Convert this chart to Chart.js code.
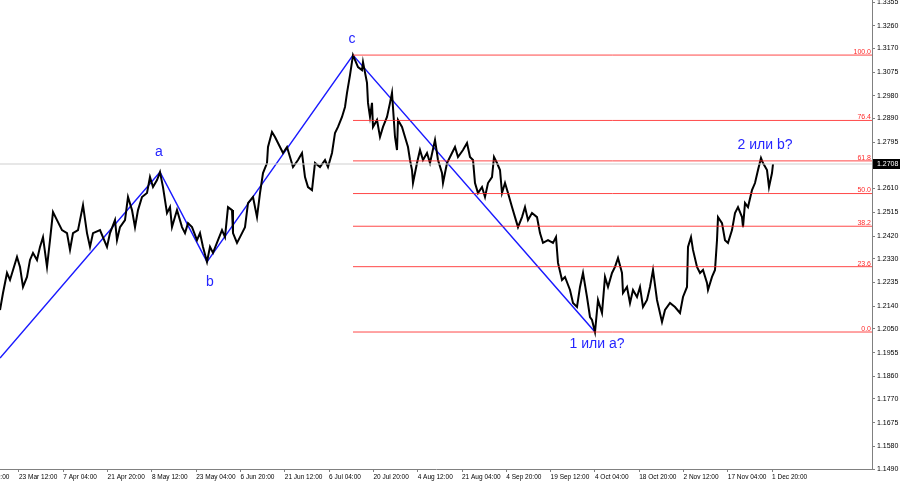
<!DOCTYPE html>
<html><head><meta charset="utf-8">
<script src="https://cdn.jsdelivr.net/npm/chart.js@4.4.1/dist/chart.umd.min.js"></script>
<style>html,body{margin:0;padding:0;background:#fff;}canvas{display:block;}</style>
</head><body>
<canvas id="c" width="900" height="485"></canvas>
<script>
// ---------- DATA ----------
const barIndex = [
  0,3,7,10,17,20,23,27,30,33,
  37,40,43,47,50,53,57,62,67,70,
  73,78,82,83,87,90,93,100,107,110,
  115,117,120,125,128,132,135,138,142,147,
  150,153,157,160,163,167,170,172,177,182,
  185,188,192,197,200,203,207,210,213,218,
  222,225,228,232,233,237,240,245,248,253,
  257,260,263,267,268,272,275,278,283,287,
  290,293,298,302,305,308,312,315,320,325,
  328,332,335,338,342,345,347,350,353,358,
  362,363,367,368,370,372,373,377,380,383,
  387,390,392,395,397,398,402,405,408,410,
  412,413,417,420,423,427,430,435,438,442,
  443,447,452,455,458,463,467,470,473,475,
  478,482,485,488,492,494,497,500,502,505,
  508,512,515,518,522,525,528,532,537,540,
  543,548,553,556,558,562,565,570,573,577,
  580,583,587,590,592,595,598,602,605,608,
  612,615,618,622,623,627,630,633,637,640,
  643,647,650,653,657,662,665,670,675,680,
  683,687,688,691,693,697,700,703,707,708,
  712,715,717,718,722,725,728,732,735,738,
  742,743,745,748,752,755,758,761,763,767,
  769,772,773
];
const closePrice = [
  1.2125,1.2193,1.2273,1.2245,1.2337,1.2297,1.2217,1.2257,1.2325,1.2353,
  1.2325,1.2377,1.2416,1.2297,1.2404,1.2516,1.2484,1.2444,1.2432,1.2365,
  1.2432,1.2444,1.2524,1.2544,1.2432,1.2377,1.2432,1.2444,1.2377,1.2432,
  1.2484,1.2404,1.2456,1.2484,1.2576,1.2524,1.2456,1.2524,1.2576,1.2592,
  1.2656,1.2616,1.2644,1.2676,1.2616,1.2512,1.2536,1.2456,1.2524,1.2456,
  1.2432,1.2472,1.2456,1.2404,1.2432,1.2377,1.2317,1.2377,1.2353,1.2404,
  1.2444,1.2416,1.2536,1.2524,1.2432,1.2393,1.2416,1.2456,1.2552,1.2576,
  1.2496,1.2592,1.2672,1.2712,1.2776,1.2836,1.2816,1.2792,1.2752,1.2776,
  1.2736,1.2696,1.2724,1.2752,1.2656,1.2616,1.2604,1.2712,1.2696,1.2724,
  1.2696,1.2752,1.2832,1.2856,1.2896,1.2936,1.2992,1.3063,1.3143,1.3095,
  1.3083,1.3115,1.3032,1.2952,1.2896,1.2952,1.2856,1.2884,1.2816,1.2856,
  1.2896,1.2952,1.2992,1.2816,1.2764,1.2884,1.2856,1.2816,1.2776,1.2724,
  1.2684,1.2632,1.2712,1.2764,1.2724,1.2752,1.2712,1.2804,1.2724,1.2672,
  1.2632,1.2712,1.2752,1.2776,1.2736,1.2764,1.2792,1.2736,1.2724,1.2632,
  1.2592,1.2616,1.2576,1.2632,1.2656,1.2736,1.2712,1.2684,1.2592,1.2632,
  1.2592,1.2536,1.2496,1.2456,1.2496,1.2536,1.2484,1.2512,1.2496,1.2432,
  1.2393,1.2404,1.2393,1.2416,1.2313,1.2245,1.2257,1.2205,1.2153,1.2137,
  1.2217,1.2273,1.2177,1.2097,1.2085,1.2037,1.2165,1.2113,1.2257,1.2217,
  1.2273,1.2297,1.2333,1.2273,1.2193,1.2217,1.2153,1.2205,1.2177,1.2217,
  1.2137,1.2165,1.2217,1.2285,1.2165,1.2077,1.2125,1.2153,1.2137,1.2113,
  1.2177,1.2217,1.2377,1.2416,1.2365,1.2297,1.2273,1.2285,1.2233,1.2205,
  1.2257,1.2285,1.2404,1.2496,1.2472,1.2404,1.2393,1.2444,1.2512,1.2536,
  1.2496,1.2456,1.2552,1.2536,1.2604,1.2632,1.2684,1.2732,1.2712,1.2684,
  1.2616,1.2672,1.2708
];
const waveX = [0,160,207,353,595];
const wavePrice = [1.1933,1.2676,1.2317,1.3143,1.2037];
const waveLabels = ['a','b','c','1 или а?','2 или b?'];
const fibHigh = 1.3143, fibLow = 1.2037, fibStartX = 353;
const fibRatios = [0,23.6,38.2,50,61.8,76.4,100];
const priceTickLabels = ['1.3355','1.3260','1.3170','1.3075','1.2980','1.2890','1.2795','1.2610','1.2515','1.2420','1.2330','1.2235','1.2140','1.2050','1.1955','1.1860','1.1770','1.1675','1.1580','1.1490'];
const dateLabels = ['8 Mar 20:00','23 Mar 12:00','7 Apr 04:00','21 Apr 20:00','8 May 12:00','23 May 04:00','6 Jun 20:00','21 Jun 12:00','6 Jul 04:00','20 Jul 20:00','4 Aug 12:00','21 Aug 04:00','4 Sep 20:00','19 Sep 12:00','4 Oct 04:00','18 Oct 20:00','2 Nov 12:00','17 Nov 04:00','1 Dec 20:00'];
const lastPrice = closePrice[closePrice.length-1];

// ---------- CHART ----------
const X_MAX = 872, DATE_FIRST = -25.3, DATE_STEP = 44.3;
const FONT = "'Liberation Sans',Arial,sans-serif";

const fibSets = fibRatios.map(r => {
  const p = fibLow + r/100*(fibHigh-fibLow);
  return {data:[{x:fibStartX,y:p},{x:X_MAX,y:p}], borderColor:'rgba(255,40,40,0.85)', borderWidth:1, pointRadius:0};
});

const labelPlugin = {
  id:'labels',
  afterDraw(chart){
    const {ctx, scales:{x,y}} = chart;
    ctx.save();
    // fib labels
    ctx.font = "7px " + FONT; ctx.fillStyle = '#ff2a2a';
    ctx.textAlign = 'right'; ctx.textBaseline = 'bottom';
    fibRatios.forEach(r => {
      const p = fibLow + r/100*(fibHigh-fibLow);
      ctx.fillText(r.toFixed(1), x.right-1, y.getPixelForValue(p)+0.5);
    });
    // wave labels
    const offs = [[-1,-20],[3,20],[-1,-16],[2,12],[-8,-19]];
    const anchors = waveX.map((wx,i)=>[wx, wavePrice[i]]).slice(1);
    anchors.push([barIndex[barIndex.length-1], lastPrice]);
    ctx.font = "14px 'Liberation Sans',Arial,sans-serif"; ctx.fillStyle = '#2626ff';
    ctx.textAlign = 'center'; ctx.textBaseline = 'middle';
    waveLabels.forEach((t,i)=>{
      const px = x.getPixelForValue(anchors[i][0]) + offs[i][0];
      const py = y.getPixelForValue(anchors[i][1]) + offs[i][1];
      ctx.fillText(t, px, py);
    });
    // current price box
    const py = Math.round(y.getPixelForValue(lastPrice));
    ctx.fillStyle = '#000'; ctx.fillRect(x.right+1, py-5, 27, 10);
    ctx.fillStyle = '#fff'; ctx.font = "7px " + FONT;
    ctx.textAlign = 'left'; ctx.textBaseline = 'middle';
    ctx.fillText(lastPrice.toFixed(4), x.right+5, py+0.5);
    ctx.restore();
  }
};

new Chart(document.getElementById('c'), {
  type:'line',
  data:{datasets:[
    {data:[{x:0,y:lastPrice},{x:X_MAX,y:lastPrice}], borderColor:'#cfcfcf', borderWidth:1, pointRadius:0},
    ...fibSets,
    {data:barIndex.map((b,i)=>({x:b,y:closePrice[i]})), borderColor:'#000', borderWidth:2, pointRadius:0, tension:0, borderJoinStyle:'miter'},
    {data:waveX.map((b,i)=>({x:b,y:wavePrice[i]})), borderColor:'#1a1aff', borderWidth:1.5, pointRadius:0, tension:0}
  ]},
  options:{
    responsive:false, animation:false, devicePixelRatio:1,
    layout:{padding:0},
    plugins:{legend:{display:false}, tooltip:{enabled:false}},
    scales:{
      x:{
        type:'linear', min:0, max:X_MAX, position:'bottom',
        afterBuildTicks: s => { s.ticks = dateLabels.map((l,i)=>({value: DATE_FIRST + i*DATE_STEP})); },
        afterFit: s => { s.height = 16; s.paddingLeft = 0; s.paddingRight = 0; },
        ticks:{autoSkip:false, maxRotation:0, minRotation:0, align:'start', padding:1, color:'#000',
          font:{family:FONT, size:6.5}, callback:(v,i)=>dateLabels[i]},
        grid:{drawOnChartArea:false, drawTicks:true, tickLength:3, color:'#808080'},
        border:{display:true, color:'#808080', width:1}
      },
      y:{
        type:'linear', position:'right', min:1.1490, max:1.3363,
        afterBuildTicks: s => { s.ticks = priceTickLabels.map(t=>({value:parseFloat(t)})); },
        afterFit: s => { s.width = 28; s.paddingTop = 0; s.paddingBottom = 0; },
        ticks:{autoSkip:false, padding:2, color:'#000', font:{family:FONT, size:7},
          callback:(v,i)=>priceTickLabels[i]},
        grid:{drawOnChartArea:false, drawTicks:true, tickLength:3, color:'#808080'},
        border:{display:true, color:'#808080', width:1}
      }
    }
  },
  plugins:[labelPlugin]
});
</script>
</body></html>
